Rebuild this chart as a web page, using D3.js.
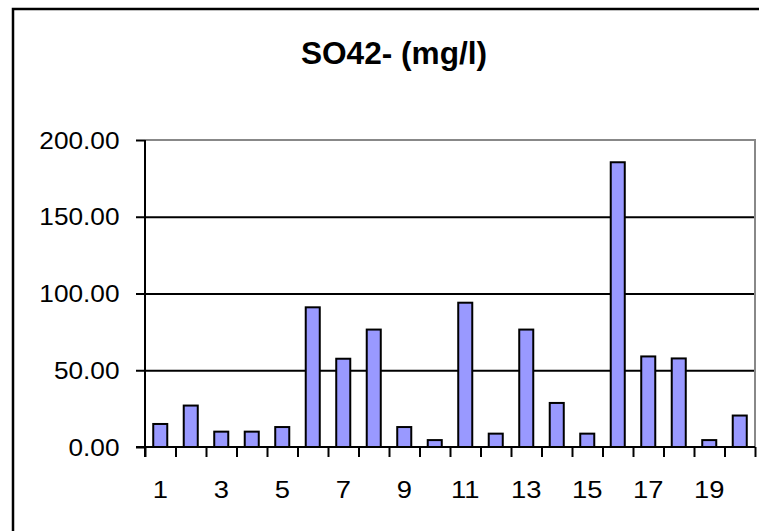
<html>
<head>
<script src="https://d3js.org/d3.v7.min.js"></script>
<style>
  body { margin: 0; background: #fff; }
  svg { display: block; font-family: "Liberation Sans", Arial, sans-serif; }
  .domain { display: none; }
</style>
</head>
<body>
<div id="chart"></div>
<script>
// data
const categories = d3.range(1, 21);
const so4 = [15, 27, 10, 10, 13, 91, 57.5, 76.5, 13, 4.5, 94, 8.7, 76.5, 28.7, 8.7, 185.5, 59, 57.7, 4.5, 20.5];
const yTicks = [0, 50, 100, 150, 200];
const xLabels = [1, 3, 5, 7, 9, 11, 13, 15, 17, 19];

const W = 759, H = 531;
const plot = { left: 145, right: 755, top: 140, bottom: 447 };
const stretch = 1.14; // picture is stretched sideways

const svg = d3.select("#chart").append("svg")
  .attr("width", W).attr("height", H);

// outer chart frame (runs off the right and bottom)
svg.append("rect")
  .attr("x", 13).attr("y", 9)
  .attr("width", 800).attr("height", 600)
  .attr("fill", "#fff")
  .attr("stroke", "#000").attr("stroke-width", 2.5);

// leftover glyph from neighbouring chart
svg.append("text")
  .attr("x", -7).attr("y", 507)
  .attr("font-size", 22).attr("fill", "#aaa")
  .text(")");

const x = d3.scaleBand()
  .domain(categories)
  .range([plot.left, plot.right])
  .paddingInner(0.54).paddingOuter(0.27);

const xEdge = d3.scaleLinear().domain([0, 20]).range([plot.left, plot.right]);

const y = d3.scaleLinear().domain([0, 200]).range([plot.bottom, plot.top]);

// gridlines
svg.append("g")
  .attr("transform", `translate(${plot.left},0)`)
  .call(d3.axisLeft(y).tickValues(yTicks.slice(1, -1)).tickSize(-(plot.right - plot.left)).tickFormat(""))
  .call(g => g.selectAll("line").attr("stroke", "#000").attr("stroke-width", 2));

// plot area border (top / right in grey)
svg.append("path")
  .attr("d", `M${plot.left},${plot.top}H${plot.right}V${plot.bottom}`)
  .attr("fill", "none").attr("stroke", "#888").attr("stroke-width", 2);

// bars
svg.append("g").selectAll("rect")
  .data(so4)
  .join("rect")
  .attr("x", (d, i) => x(categories[i]))
  .attr("y", d => y(d))
  .attr("width", x.bandwidth())
  .attr("height", d => y(0) - y(d))
  .attr("fill", "#9999ff")
  .attr("stroke", "#000")
  .attr("stroke-width", 2);

// y axis
svg.append("g")
  .attr("transform", `translate(${plot.left},0)`)
  .call(d3.axisLeft(y).tickValues(yTicks).tickSize(9).tickFormat(""))
  .call(g => g.selectAll("line").attr("stroke", "#000").attr("stroke-width", 2));
svg.append("line")
  .attr("x1", plot.left).attr("x2", plot.left)
  .attr("y1", y(200)).attr("y2", y(0) + 10)
  .attr("stroke", "#000").attr("stroke-width", 2);

// x axis
svg.append("g")
  .attr("transform", `translate(0,${plot.bottom})`)
  .call(d3.axisBottom(xEdge).tickValues(d3.range(21)).tickSize(10).tickFormat(""))
  .call(g => g.selectAll("line").attr("stroke", "#000").attr("stroke-width", 2));
svg.append("line")
  .attr("x1", plot.left - 9).attr("x2", plot.right)
  .attr("y1", y(0)).attr("y2", y(0))
  .attr("stroke", "#000").attr("stroke-width", 2);

// y labels
svg.append("g").selectAll("text")
  .data(yTicks)
  .join("text")
  .attr("transform", d => `translate(119.5,${y(d) + 8.5}) scale(${stretch},1)`)
  .attr("text-anchor", "end")
  .attr("font-size", 23)
  .text(d => d3.format(".2f")(d));

// x labels
svg.append("g").selectAll("text")
  .data(xLabels)
  .join("text")
  .attr("transform", d => `translate(${x(d) + x.bandwidth() / 2},498) scale(${stretch},1)`)
  .attr("text-anchor", "middle")
  .attr("font-size", 24)
  .text(d => d);

// title
svg.append("text")
  .attr("transform", `translate(394,64) scale(1.02,1)`)
  .attr("text-anchor", "middle")
  .attr("font-size", 31)
  .attr("font-weight", "bold")
  .text("SO42- (mg/l)");
</script>
</body>
</html>
